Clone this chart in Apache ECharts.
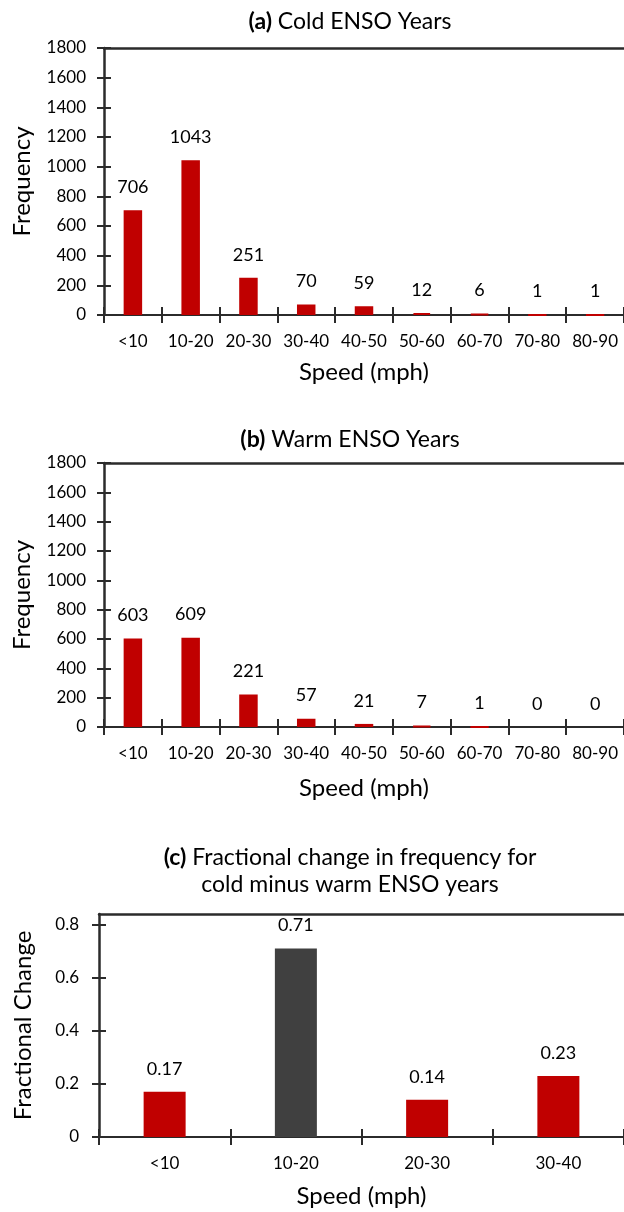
<!DOCTYPE html>
<html>
<head>
<meta charset="utf-8">
<script src="https://cdn.jsdelivr.net/npm/echarts@6/dist/echarts.min.js"></script>
<style>
html, body { margin: 0; padding: 0; background: #fff; }
#chart { width: 624px; height: 1212px; }
</style>
</head>
<body>
<div id="chart"></div>
<script>
// speed bins (mph)
const speedBins = ["<10", "10-20", "20-30", "30-40", "40-50", "50-60", "60-70", "70-80", "80-90"]
const coldFreq = [706, 1043, 251, 70, 59, 12, 6, 1, 1]
const warmFreq = [603, 609, 221, 57, 21, 7, 1, 0, 0]

const changeBins = ["<10", "10-20", "20-30", "30-40"]
const fracChange = [0.17, 0.71, 0.14, 0.23]

const freqTicks = [0, 200, 400, 600, 800, 1000, 1200, 1400, 1600, 1800]
const fracTicks = [0, 0.2, 0.4, 0.6, 0.8]

const FONT = "Lato"
const RED = "#C00000"
const DARK = "#404040"
const AXIS = "#2b2b2b"

let chart = echarts.init(document.getElementById("chart"), null, { renderer: "canvas" })

// fresh style object every time
function ls() { return { color: AXIS, width: 2, type: "solid", opacity: 1 } }

// one panel = grid + axes (main, cross ticks, top line) + series
let grids = [], xAxes = [], yAxes = [], series = []

function addPanel(opt) {
    let gi = grids.length
    grids.push({ left: opt.left, top: opt.top, height: opt.height, width: 631 - opt.left })
    xAxes.push({
        gridIndex: gi, type: "category", position: "bottom", data: opt.cats,
        axisLine: { show: true, onZero: false, lineStyle: ls() },
        axisTick: { show: true, length: 8, alignWithLabel: false, lineStyle: ls() },
        axisLabel: { fontFamily: FONT, fontSize: 17, color: "#000", margin: 18, interval: 0 },
        name: "Speed (mph)", nameLocation: "middle", nameGap: opt.xNameGap,
        nameTextStyle: { fontFamily: FONT, fontSize: 24, color: "#000" }
    })
    xAxes.push({
        gridIndex: gi, type: "category", position: "bottom", data: opt.cats,
        axisLine: { show: false, onZero: false },
        axisTick: { show: true, inside: true, length: 8, alignWithLabel: false, lineStyle: ls() },
        axisLabel: { show: false }
    })
    // top frame line
    xAxes.push({
        gridIndex: gi, type: "category", position: "top", data: opt.cats,
        axisLine: { show: true, onZero: false, lineStyle: { color: AXIS, width: 2.5 } },
        axisTick: { show: false },
        axisLabel: { show: false }
    })
    yAxes.push({
        gridIndex: gi, type: "value", position: "left", min: 0, max: opt.max,
        axisLine: { show: true, onZero: false, lineStyle: { color: AXIS, width: 2.5 } },
        axisTick: { show: true, length: 7, lineStyle: ls(), customValues: opt.ticks },
        axisLabel: { fontFamily: FONT, fontSize: 17, color: "#000", margin: opt.labelMargin,
            customValues: opt.ticks, formatter: v => String(v) },
        splitLine: { show: false },
        name: opt.yName, nameLocation: "middle", nameGap: opt.yNameGap,
        nameTextStyle: { fontFamily: FONT, fontSize: 24, color: "#000" }
    })
    yAxes.push({
        gridIndex: gi, type: "value", position: "left", min: 0, max: opt.max,
        axisLine: { show: false, onZero: false },
        axisTick: { show: true, inside: true, length: 7, lineStyle: ls(), customValues: opt.ticks },
        axisLabel: { show: false },
        splitLine: { show: false }
    })
    series.push({
        type: "bar",
        xAxisIndex: gi * 3, yAxisIndex: gi * 2,
        barWidth: "32%",
        data: opt.values.map((v, i) => ({
            value: v,
            itemStyle: {
                color: opt.cats[i] === opt.darkCat ? DARK : RED,
                borderColor: opt.cats[i] === opt.darkCat ? DARK : RED,
                borderWidth: v > 0 ? 2 : 0
            }
        })),
        label: {
            show: true, position: "top", distance: 14,
            fontFamily: FONT, fontSize: 18, color: "#000"
        }
    })
}

addPanel({ cats: speedBins, values: coldFreq, left: 104, top: 48, height: 267, max: 1800,
    ticks: freqTicks, yName: "Frequency", yNameGap: 70, xNameGap: 45, labelMargin: 18 })
addPanel({ cats: speedBins, values: warmFreq, left: 104, top: 463, height: 264, max: 1800,
    ticks: freqTicks, yName: "Frequency", yNameGap: 70, xNameGap: 49, labelMargin: 18 })
addPanel({ cats: changeBins, values: fracChange, left: 99, top: 914, height: 223, max: 0.84,
    ticks: fracTicks, yName: "Fractional Change", yNameGap: 64, xNameGap: 47, labelMargin: 20,
    darkCat: "10-20" })

let titleStyle = {
    fontFamily: FONT, fontSize: 23, fontWeight: "normal", color: "#000", lineHeight: 27,
    rich: { b: { fontFamily: FONT, fontSize: 23, fontWeight: "bold", color: "#000", lineHeight: 27 } }
}

let options = {
    animation: false,
    backgroundColor: "#fff",
    title: [
        { text: "{b|(a)} Cold ENSO Years", left: 350, top: 8, textAlign: "center", padding: 0, textStyle: titleStyle },
        { text: "{b|(b)} Warm ENSO Years", left: 350, top: 426, textAlign: "center", padding: 0, textStyle: titleStyle },
        { text: "{b|(c)} Fractional change in frequency for\ncold minus warm ENSO years", left: 350, top: 844,
          textAlign: "center", padding: 0, textStyle: titleStyle }
    ],
    grid: grids,
    xAxis: xAxes,
    yAxis: yAxes,
    series: series
}
chart.setOption(options)
</script>
</body>
</html>
